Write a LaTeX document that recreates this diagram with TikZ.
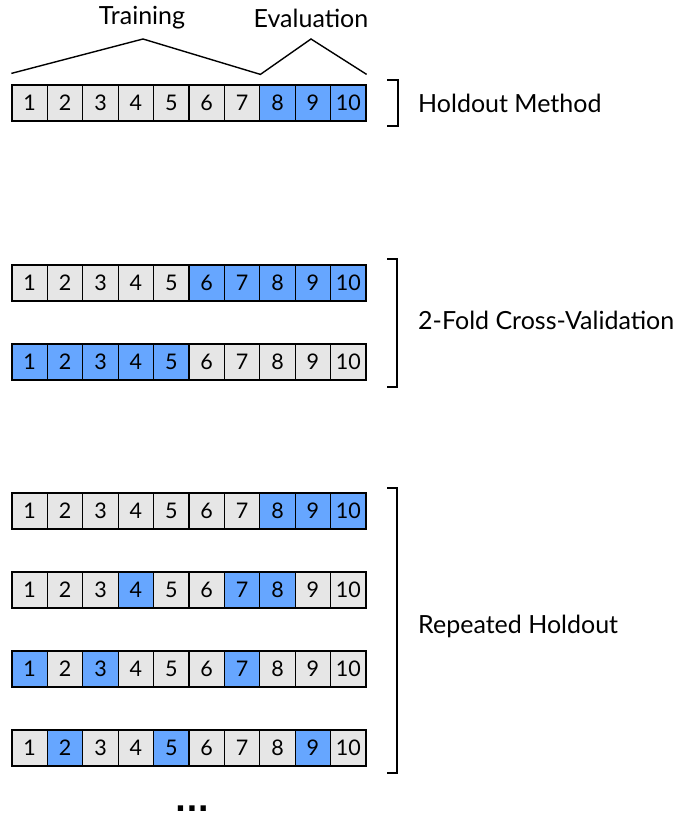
\documentclass[tikz,border=0pt]{standalone}
\usepackage{fontspec}
\setmainfont{Lato}
\newfontfamily\dotfont{DejaVu Sans}
\usepackage{xcolor}
\usepackage{tikz}

\definecolor{foldgray}{RGB}{230,230,230}
\definecolor{evalblue}{RGB}{102,166,255}

\begin{document}
\begin{tikzpicture}[
		x=1pt, y=-1pt,
		fold/.style={draw, line width=1.2pt, minimum width=35.4pt, minimum height=36pt, inner sep=0pt, font=\fontsize{21.5}{21.5}\selectfont},
		trn/.style={fold, fill=foldgray},
		evl/.style={fold, fill=evalblue},
		lbl/.style={font=\fontsize{25}{25}\selectfont, inner sep=0pt},
		brk/.style={line width=1.4pt},
		every path/.style={line join=miter}
		]
		\useasboundingbox (0,0) rectangle (674,818);

		% holdout method
		\foreach \s [count=\i] in {trn,trn,trn,trn,trn,trn,trn,evl,evl,evl}
			\node[\s] (a\i) at ({35.4*\i-5.7},103) {\i};
		% 2-fold cross-validation
		\foreach \s [count=\i] in {trn,trn,trn,trn,trn,evl,evl,evl,evl,evl}
			\node[\s] (b\i) at ({35.4*\i-5.7},283) {\i};
		\foreach \s [count=\i] in {evl,evl,evl,evl,evl,trn,trn,trn,trn,trn}
			\node[\s] (c\i) at ({35.4*\i-5.7},362) {\i};
		% repeated holdout
		\foreach \s [count=\i] in {trn,trn,trn,trn,trn,trn,trn,evl,evl,evl}
			\node[\s] (d\i) at ({35.4*\i-5.7},511) {\i};
		\foreach \s [count=\i] in {trn,trn,trn,evl,trn,trn,evl,evl,trn,trn}
			\node[\s] (e\i) at ({35.4*\i-5.7},590) {\i};
		\foreach \s [count=\i] in {evl,trn,evl,trn,trn,trn,evl,trn,trn,trn}
			\node[\s] (f\i) at ({35.4*\i-5.7},669) {\i};
		\foreach \s [count=\i] in {trn,evl,trn,trn,evl,trn,trn,trn,evl,trn}
			\node[\s] (g\i) at ({35.4*\i-5.7},748) {\i};

		% training / evaluation split
		\node[lbl] (train) at (142,18) {Training};
		\node[lbl] (evaluate) at (311,18) {Evaluation};
		\coordinate (tpeak) at (143,39);
		\coordinate (epeak) at (311,39);
		\draw[brk] ([yshift=11pt]a1.north west) -- (tpeak) -- ([yshift=10pt]a7.north east)
			-- (epeak) -- ([yshift=10pt]a10.north east);

		% brackets and names
		\draw[brk] (387,80) -- (398,80) -- (398,126) -- (387,126);
		\node[lbl, anchor=west] (holdout) at (418,103) {Holdout Method};
		\draw[brk] (387,259) -- (397,259) -- (397,387) -- (387,387);
		\node[lbl, anchor=west] (twofold) at (418,320) {2-Fold Cross-Validation};
		\draw[brk] (387,488) -- (397,488) -- (397,773) -- (387,773);
		\node[lbl, anchor=west] (repeated) at (418,626) {Repeated Holdout};

		\node[font=\dotfont\bfseries\fontsize{30}{30}\selectfont, inner sep=0pt, anchor=base] (more) at (192,811) {...};
	\end{tikzpicture}
\end{document}
